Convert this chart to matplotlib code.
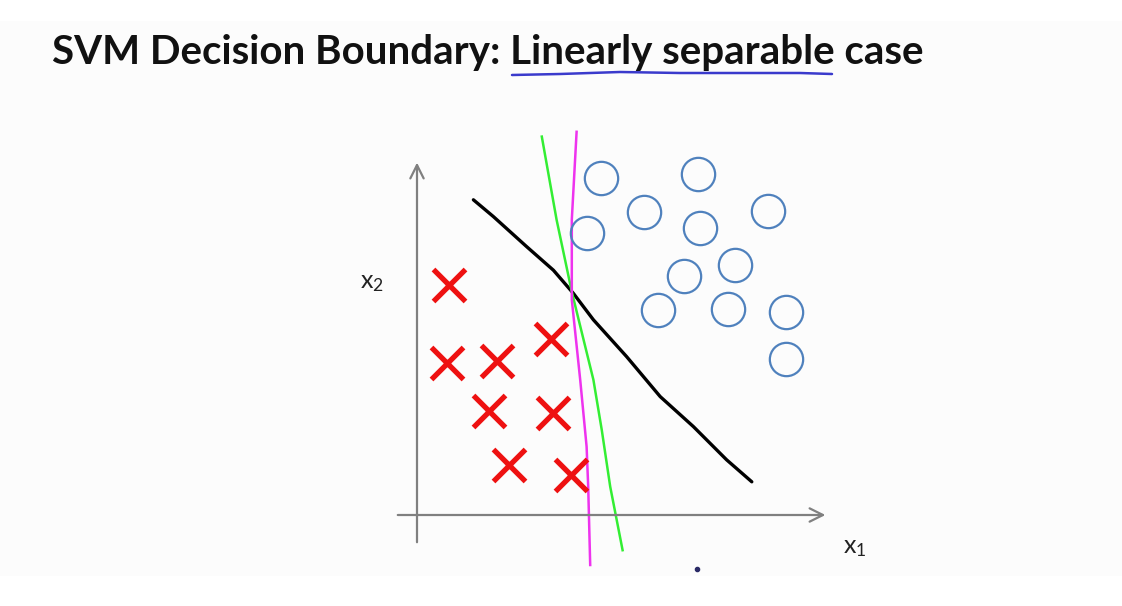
import matplotlib

matplotlib.use("Agg")
import matplotlib.pyplot as plt
from matplotlib.patches import Rectangle

plt.rcParams["font.family"] = ["Lato", "DejaVu Sans"]
plt.rcParams["mathtext.fontset"] = "custom"
plt.rcParams["mathtext.rm"] = "Lato"

# negative examples (red crosses), x1 / x2 in plot units
neg_x1 = [0.8, 0.75, 2.0, 3.35, 1.8, 3.4, 2.3, 3.85]
neg_x2 = [5.75, 3.8, 3.85, 4.4, 2.6, 2.55, 1.25, 1.0]

# positive examples (blue circles)
pos_x1 = [4.6, 7.03, 5.68, 8.78, 4.24, 7.08, 7.95, 6.68, 6.03, 7.78, 9.22, 9.22]
pos_x2 = [8.42, 8.53, 7.58, 7.61, 7.04, 7.17, 6.25, 5.98, 5.12, 5.14, 5.08, 3.89]

# hand-drawn candidate boundaries
black_x1 = [1.41, 1.91, 2.74, 3.41, 3.91, 4.41, 5.24, 6.08, 6.91, 7.74, 8.37]
black_x2 = [7.88, 7.46, 6.71, 6.12, 5.54, 4.88, 3.96, 2.96, 2.21, 1.38, 0.83]
green_x1 = [3.12, 3.49, 3.87, 4.41, 4.62, 4.83, 5.14]
green_x2 = [9.46, 7.38, 5.58, 3.38, 2.12, 0.71, -0.88]
magenta_x1 = [3.99, 3.87, 3.87, 4.08, 4.24, 4.28, 4.33]
magenta_x2 = [9.58, 7.38, 5.38, 3.38, 1.71, 0.71, -1.25]

# axis extents
x_axis = (-0.55, 10.28)
y_axis = (-0.75, 8.88)

title = "SVM Decision Boundary: Linearly separable case"
underline_px = [512, 560, 620, 680, 740, 800, 832]
underline_py = [75, 74, 72, 73, 73, 73, 74]

W, H = 1122, 606
ORIGIN = (417, 515)
UNIT = 40.0

fig = plt.figure(figsize=(W / 100, H / 100), dpi=100)
fig.patch.set_facecolor("white")

# slide layer in pixel space
bg = fig.add_axes([0, 0, 1, 1])
bg.set_xlim(0, W)
bg.set_ylim(H, 0)
bg.axis("off")
bg.add_patch(Rectangle((0, 21), W, 555, facecolor="#fcfcfc", edgecolor="none"))
bg.text(52, 64, title, fontsize=29, fontweight="bold", color="#111111", va="baseline")
bg.plot(underline_px, underline_py, color="#3a3acc", lw=1.8, solid_capstyle="round")
bg.plot([697], [569], marker="o", ms=3, color="#2a2a66")

# chart layer in data units
ax = fig.add_axes([0, 0, 1, 1])
ax.set_xlim(-ORIGIN[0] / UNIT, (W - ORIGIN[0]) / UNIT)
ax.set_ylim(-(H - ORIGIN[1]) / UNIT, ORIGIN[1] / UNIT)
ax.axis("off")
ax.patch.set_alpha(0)

arrow = dict(arrowstyle="->", color="#808080", lw=1.6, mutation_scale=24)
ax.annotate("", xy=(x_axis[1], 0), xytext=(x_axis[0], 0), arrowprops=arrow)
ax.annotate("", xy=(0, y_axis[1]), xytext=(0, y_axis[0]), arrowprops=arrow)

ax.plot(black_x1, black_x2, color="black", lw=2.4, solid_capstyle="round")
ax.plot(green_x1, green_x2, color="#33ee33", lw=1.8)
ax.plot(magenta_x1, magenta_x2, color="#ee33ee", lw=1.8)

ax.plot(neg_x1, neg_x2, ls="none", marker="x", ms=23, mew=3.8, color="#ee1111")
ax.plot(pos_x1, pos_x2, ls="none", marker="o", ms=24, mew=1.6,
        markerfacecolor="none", markeredgecolor="#4f81bd")

ax.text(-1.12, 5.82, r"$\mathregular{x_2}$", fontsize=18, color="#222222",
        ha="center", va="center")
ax.text(10.95, -0.82, r"$\mathregular{x_1}$", fontsize=18, color="#222222",
        ha="center", va="center")

fig.savefig("out.png", dpi=100)
plt.close(fig)
